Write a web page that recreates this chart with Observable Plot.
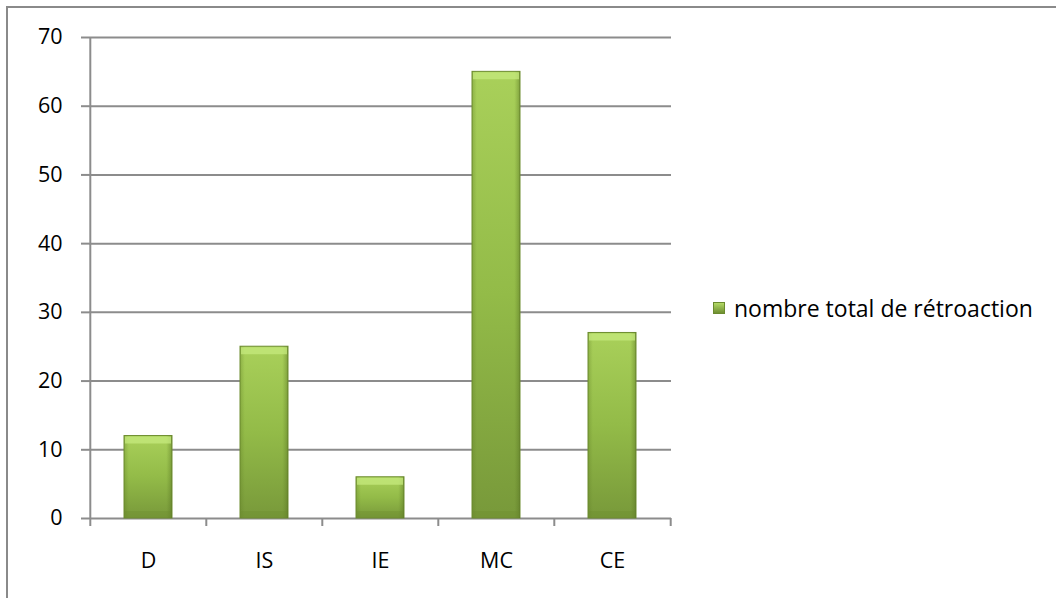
<!DOCTYPE html>
<html>
<head>
<meta charset="utf-8">
<script src="https://cdn.jsdelivr.net/npm/d3@7"></script>
<script src="https://cdn.jsdelivr.net/npm/@observablehq/plot@0.6"></script>
<style>
  html, body { margin: 0; padding: 0; background: #fff; }
  #wrap { position: relative; width: 1056px; height: 598px; overflow: hidden; font-family: "Open Sans", Lato, sans-serif; }
  #frame { position: absolute; left: 6px; top: 6px; width: 1200px; height: 800px; border: 2px solid #8a8a8a; box-sizing: border-box; }
  #chart { position: absolute; left: 0; top: 0; }
  #legend { position: absolute; left: 713px; top: 292px; display: flex; align-items: center; font-size: 23px; color: #000; white-space: nowrap; }
  #legend .sw { width: 12px; height: 12px; margin-right: 9px; background: linear-gradient(#b3d966, #6f8f31); border: 1px solid #6a8a2e; box-sizing: border-box; }
</style>
</head>
<body>
<div id="wrap">
  <div id="frame"></div>
  <div id="chart"></div>
  <div id="legend"><div class="sw"></div><span>nombre total de rétroaction</span></div>
</div>
<script>
const categories = ["D", "IS", "IE", "MC", "CE"];
const values = [12, 25, 6, 65, 27];
const yTicks = [0, 10, 20, 30, 40, 50, 60, 70];
const seriesName = "nombre total de rétroaction";

const data = categories.map((c, i) => ({category: c, value: values[i]}));

const W = 1056, H = 598;
const mLeft = 89, mRight = 385, mTop = 37, mBottom = 80;
const step = (W - mLeft - mRight) / categories.length;

const grid = "#8c8c8c";
const font = "'Open Sans', Lato, sans-serif";
const fs = 21.5;

const chart = Plot.plot({
  width: W,
  height: H,
  marginLeft: mLeft,
  marginRight: mRight,
  marginTop: mTop,
  marginBottom: mBottom,
  style: {fontFamily: font, fontSize: fs + "px", color: "#000", background: "transparent"},
  x: {domain: categories, paddingInner: 0.588, paddingOuter: 0.294, label: null},
  y: {domain: [0, 70], label: null},
  marks: [
    // horizontal gridlines
    Plot.ruleY(yTicks, {stroke: grid, strokeWidth: 2}),
    // y axis line (left edge of the first band)
    Plot.ruleX(categories.slice(0, 1), {x: d => d, dx: -step / 2, y1: 0, y2: 70, stroke: grid, strokeWidth: 2}),
    // y ticks + labels
    Plot.axisY({ticks: yTicks, tickSize: 8, tickPadding: 19, stroke: grid, strokeWidth: 2, fill: "#000", fontSize: fs, label: null}),
    // x category labels
    Plot.axisX({tickSize: 0, tickPadding: 34, fill: "#000", fontSize: fs, label: null}),
    // x boundary ticks (between categories)
    Plot.ruleX(categories, {x: d => d, dx: -step / 2, y1: 0, y2: 0, insetBottom: -8, stroke: grid, strokeWidth: 2}),
    Plot.ruleX(categories.slice(-1), {x: d => d, dx: step / 2, y1: 0, y2: 0, insetBottom: -8, stroke: grid, strokeWidth: 2}),
    // bars
    Plot.barY(data, {x: "category", y: "value", fill: "url(#barGradV)", stroke: "#6e8d30", strokeWidth: 1,
      style: "filter: drop-shadow(3px 1px 2px rgba(0,0,0,0.28))"}),
    Plot.barY(data, {x: "category", y: "value", fill: "url(#barGradH)"}),
    // top bevel highlight
    Plot.tickY(data, {x: "category", y: "value", stroke: "#c6ea7e", strokeWidth: 7, dy: 4, strokeOpacity: 0.75, inset: 1}),
    // bottom bevel shade
    Plot.tickY(data, {x: "category", y: () => 0, stroke: "#6d8c2f", strokeWidth: 7, dy: -4, strokeOpacity: 0.35, inset: 1})
  ]
});

// gradient definitions
const svg = d3.select(chart);
const defs = svg.insert("defs", ":first-child");
const gv = defs.append("linearGradient").attr("id", "barGradV").attr("x1", 0).attr("y1", 0).attr("x2", 0).attr("y2", 1);
gv.append("stop").attr("offset", "0%").attr("stop-color", "#a9d05a");
gv.append("stop").attr("offset", "50%").attr("stop-color", "#93bb48");
gv.append("stop").attr("offset", "100%").attr("stop-color", "#78993a");
const gh = defs.append("linearGradient").attr("id", "barGradH").attr("x1", 0).attr("y1", 0).attr("x2", 1).attr("y2", 0);
gh.append("stop").attr("offset", "0%").attr("stop-color", "#5f7d25").attr("stop-opacity", 0.35);
gh.append("stop").attr("offset", "10%").attr("stop-color", "#5f7d25").attr("stop-opacity", 0.0);
gh.append("stop").attr("offset", "88%").attr("stop-color", "#5f7d25").attr("stop-opacity", 0.0);
gh.append("stop").attr("offset", "100%").attr("stop-color", "#4f6a1e").attr("stop-opacity", 0.45);

document.getElementById("chart").appendChild(chart);
</script>
</body>
</html>
